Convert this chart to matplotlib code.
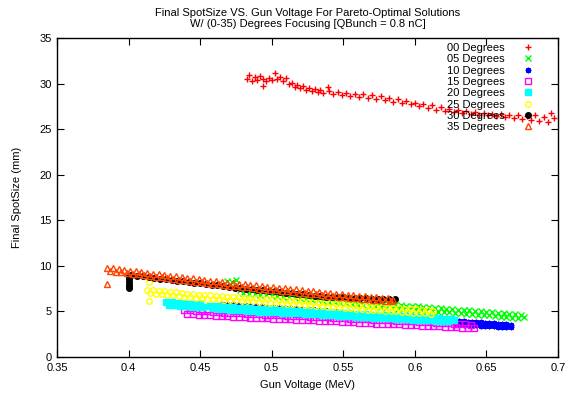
import numpy as np
import matplotlib
matplotlib.use('Agg')
import matplotlib.pyplot as plt
from matplotlib.ticker import MultipleLocator, FormatStrFormatter

plt.rcParams['font.family'] = ['Liberation Sans', 'DejaVu Sans']
plt.rcParams['font.size'] = 8

# --- data (gun voltage MeV, final spot size mm) ---
deg00_x = [0.483, 0.484, 0.486, 0.488, 0.490, 0.492, 0.494, 0.494, 0.496, 0.498, 0.500, 0.502, 0.504,
           0.506, 0.508, 0.510, 0.512, 0.514, 0.516, 0.518, 0.520, 0.522, 0.524, 0.526, 0.528, 0.530,
           0.532, 0.534, 0.536, 0.539, 0.540, 0.543, 0.546, 0.549, 0.552, 0.555, 0.558, 0.561, 0.564,
           0.567, 0.570, 0.573, 0.576, 0.579, 0.582, 0.585, 0.588, 0.591, 0.594, 0.597, 0.600, 0.603,
           0.606, 0.609, 0.612, 0.615, 0.618, 0.621, 0.624, 0.627, 0.630, 0.633, 0.636, 0.639, 0.642,
           0.645, 0.648, 0.651, 0.654, 0.657, 0.660, 0.663, 0.666, 0.669, 0.672, 0.675, 0.678, 0.681,
           0.684, 0.687, 0.690, 0.693, 0.695, 0.697]
deg00_y = [30.5, 30.9, 30.3, 30.7, 30.4, 30.8, 30.5, 29.7, 30.3, 30.6, 30.4, 31.1, 30.5,
           30.7, 30.3, 30.6, 29.9, 30.1, 29.6, 29.8, 29.5, 29.7, 29.3, 29.5, 29.2, 29.4,
           29.1, 29.3, 29.0, 29.6, 29.2, 28.9, 29.1, 28.7, 29.0, 28.6, 28.9, 28.5, 28.8,
           28.4, 28.7, 28.3, 28.6, 28.2, 28.4, 28.0, 28.3, 27.9, 28.1, 27.7, 27.9, 27.5,
           27.8, 27.3, 27.6, 27.1, 27.4, 27.0, 27.2, 26.9, 27.1, 26.8, 27.0, 26.7, 26.9,
           26.6, 26.8, 26.5, 26.7, 26.4, 26.7, 26.3, 26.5, 26.2, 26.6, 26.1, 26.4, 26.0,
           26.5, 25.9, 26.3, 25.8, 26.8, 26.2]

deg05_x = [0.469, 0.472, 0.475,
           0.478, 0.480, 0.482, 0.484, 0.486, 0.488, 0.490, 0.492, 0.494, 0.496,
           0.498, 0.500, 0.502, 0.504, 0.506, 0.508, 0.510, 0.512, 0.514, 0.516,
           0.518, 0.520, 0.522, 0.524, 0.526, 0.528, 0.530, 0.532, 0.534, 0.536,
           0.538, 0.540, 0.542, 0.544, 0.546, 0.548, 0.550, 0.552, 0.554, 0.556,
           0.558, 0.560, 0.562, 0.564, 0.566, 0.568, 0.570, 0.572, 0.574, 0.576,
           0.578, 0.580, 0.582, 0.584, 0.586, 0.588, 0.590, 0.592, 0.594, 0.596,
           0.598, 0.600, 0.602, 0.604, 0.606, 0.608, 0.610, 0.612, 0.614, 0.616,
           0.618, 0.620, 0.622, 0.624, 0.626, 0.628, 0.630, 0.632, 0.634, 0.636,
           0.638, 0.640, 0.642, 0.644, 0.646, 0.648, 0.650, 0.652, 0.654, 0.656,
           0.658, 0.660, 0.662, 0.664, 0.666, 0.668, 0.670, 0.672, 0.674, 0.676]
deg05_y = [8.35, 8.2, 8.4,
           7.40, 6.98, 7.35, 6.93, 7.31, 6.89, 7.26, 6.84, 7.22, 6.80,
           7.17, 6.75, 7.12, 6.69, 7.06, 6.63, 7.00, 6.57, 6.94, 6.51,
           6.88, 6.45, 6.81, 6.37, 6.74, 6.30, 6.66, 6.22, 6.58, 6.14,
           6.51, 6.07, 6.44, 6.01, 6.38, 5.95, 6.32, 5.88, 6.25, 5.82,
           6.19, 5.76, 6.13, 5.70, 6.07, 5.63, 6.00, 5.57, 5.93, 5.50,
           5.87, 5.43, 5.80, 5.37, 5.73, 5.30, 5.68, 5.26, 5.63, 5.21,
           5.59, 5.17, 5.55, 5.13, 5.50, 5.08, 5.46, 5.04, 5.41, 4.99,
           5.36, 4.94, 5.31, 4.89, 5.26, 4.84, 5.21, 4.79, 5.17, 4.74,
           5.12, 4.70, 5.07, 4.65, 5.03, 4.60, 4.98, 4.56, 4.94, 4.51,
           4.88, 4.45, 4.82, 4.39, 4.76, 4.32, 4.69, 4.26, 4.63, 4.40]

deg10_x = [0.465, 0.469, 0.473, 0.477, 0.481, 0.485, 0.489, 0.493, 0.497, 0.501,
           0.505, 0.509, 0.513, 0.517, 0.521, 0.525, 0.529, 0.533, 0.537, 0.541,
           0.545, 0.549, 0.553, 0.557, 0.561, 0.565, 0.569, 0.573, 0.577, 0.581,
           0.585, 0.589, 0.593, 0.597, 0.601, 0.605, 0.609, 0.613, 0.617, 0.621, 0.625,
           0.628, 0.628, 0.631, 0.631, 0.634, 0.634, 0.637, 0.637, 0.640, 0.640,
           0.643, 0.643, 0.646, 0.646, 0.649, 0.649, 0.652, 0.652, 0.655, 0.655,
           0.658, 0.658, 0.661, 0.661, 0.664, 0.664, 0.667, 0.667]
deg10_y = [5.85, 5.81, 5.77, 5.73, 5.69, 5.65, 5.61, 5.57, 5.53, 5.49,
           5.45, 5.42, 5.38, 5.34, 5.30, 5.26, 5.22, 5.18, 5.14, 5.10,
           5.04, 4.98, 4.93, 4.87, 4.81, 4.75, 4.69, 4.64, 4.58, 4.52,
           4.46, 4.40, 4.35, 4.29, 4.23, 4.17, 4.11, 4.06, 4.00, 3.94, 3.88,
           4.00, 3.65, 3.95, 3.60, 3.92, 3.57, 3.90, 3.52, 3.85, 3.50,
           3.82, 3.47, 3.80, 3.45, 3.76, 3.42, 3.73, 3.40, 3.70, 3.37,
           3.68, 3.35, 3.64, 3.33, 3.60, 3.30, 3.55, 3.35]

deg15_x = [0.439, 0.441, 0.443, 0.445, 0.447, 0.449, 0.451, 0.453, 0.455, 0.457,
           0.459, 0.461, 0.463, 0.465, 0.467, 0.469, 0.471, 0.473, 0.475, 0.477,
           0.479, 0.481, 0.483, 0.485, 0.487, 0.489, 0.491, 0.493, 0.495, 0.497,
           0.499, 0.501, 0.503, 0.505, 0.507, 0.509, 0.511, 0.513, 0.515, 0.517,
           0.519, 0.521, 0.523, 0.525, 0.527, 0.529, 0.531, 0.533, 0.535, 0.537,
           0.539, 0.541, 0.543, 0.545, 0.547, 0.549, 0.551, 0.553, 0.555, 0.557,
           0.559, 0.561, 0.563, 0.565, 0.567, 0.569, 0.571, 0.573, 0.575, 0.577,
           0.579, 0.581, 0.583, 0.585, 0.587, 0.589, 0.591, 0.593, 0.595, 0.597,
           0.599, 0.601, 0.603, 0.605, 0.607, 0.609, 0.611, 0.613, 0.615, 0.617,
           0.619, 0.621, 0.623, 0.625, 0.627, 0.629, 0.631, 0.633, 0.635, 0.637,
           0.639, 0.641]
deg15_y = [5.20, 4.77, 5.15, 4.72, 5.09, 4.66, 5.04, 4.62, 5.00, 4.58,
           4.96, 4.54, 4.92, 4.50, 4.88, 4.46, 4.84, 4.43, 4.81, 4.40,
           4.78, 4.37, 4.75, 4.34, 4.72, 4.31, 4.69, 4.28, 4.66, 4.25,
           4.63, 4.22, 4.60, 4.19, 4.57, 4.16, 4.54, 4.13, 4.52, 4.10,
           4.49, 4.08, 4.47, 4.05, 4.44, 4.03, 4.41, 4.00, 4.39, 3.97,
           4.36, 3.95, 4.33, 3.92, 4.30, 3.88, 4.26, 3.85, 4.23, 3.81,
           4.20, 3.78, 4.16, 3.74, 4.13, 3.71, 4.09, 3.68, 4.07, 3.66,
           4.04, 3.63, 4.02, 3.60, 3.99, 3.58, 3.96, 3.55, 3.94, 3.52,
           3.91, 3.49, 3.88, 3.46, 3.85, 3.43, 3.82, 3.40, 3.79, 3.36,
           3.76, 3.34, 3.72, 3.30, 3.68, 3.26, 3.64, 3.22, 3.60, 3.18,
           3.56, 3.20]

deg20_x = [0.426, 0.428, 0.430, 0.432, 0.434, 0.436, 0.438, 0.440, 0.442, 0.444,
           0.446, 0.448, 0.450, 0.452,
           0.457, 0.459, 0.461, 0.463, 0.465, 0.467, 0.469, 0.471, 0.473, 0.475,
           0.477, 0.479, 0.481, 0.483, 0.485, 0.487, 0.489, 0.491, 0.493, 0.495,
           0.497, 0.499, 0.501, 0.503, 0.505, 0.507, 0.509, 0.511, 0.513, 0.515,
           0.517, 0.519, 0.521, 0.523, 0.525, 0.527, 0.529, 0.531, 0.533, 0.535,
           0.537, 0.539, 0.541, 0.543, 0.545, 0.547, 0.549, 0.551, 0.553, 0.555,
           0.557, 0.559, 0.561, 0.563, 0.565, 0.567, 0.569, 0.571, 0.573, 0.575,
           0.577, 0.579, 0.581, 0.583, 0.585, 0.587, 0.589, 0.591, 0.593, 0.595,
           0.597, 0.599, 0.601, 0.603, 0.605, 0.607, 0.609, 0.611, 0.613, 0.615,
           0.617, 0.619, 0.621, 0.623, 0.625, 0.627]
deg20_y = [6.05, 5.73, 6.00, 5.68, 5.96, 5.63, 5.91, 5.59, 5.87, 5.54,
           5.82, 5.50, 5.77, 5.45,
           5.65, 5.33, 5.60, 5.28, 5.56, 5.23, 5.51, 5.19, 5.47, 5.15,
           5.43, 5.11, 5.39, 5.07, 5.35, 5.03, 5.31, 4.99, 5.28, 4.96,
           5.25, 4.93, 5.22, 4.90, 5.19, 4.87, 5.16, 4.84, 5.13, 4.81,
           5.09, 4.78, 5.06, 4.75, 5.03, 4.71, 5.00, 4.68, 4.97, 4.65,
           4.93, 4.62, 4.90, 4.58, 4.87, 4.55, 4.83, 4.51, 4.80, 4.48,
           4.76, 4.44, 4.73, 4.41, 4.69, 4.38, 4.66, 4.34, 4.63, 4.31,
           4.59, 4.28, 4.56, 4.24, 4.53, 4.21, 4.49, 4.18, 4.46, 4.14,
           4.43, 4.11, 4.39, 4.08, 4.36, 4.05, 4.33, 4.02, 4.30, 3.99,
           4.26, 3.96, 4.23, 3.93, 4.21, 4.05]

deg25_x = [0.414, 0.414,
           0.413, 0.415, 0.417, 0.419, 0.421, 0.423, 0.425, 0.427, 0.429, 0.431,
           0.433, 0.435, 0.437, 0.439, 0.441, 0.443, 0.445, 0.447, 0.449, 0.451,
           0.453, 0.455, 0.457, 0.459, 0.461, 0.463, 0.465, 0.467, 0.469, 0.471,
           0.473, 0.475, 0.477, 0.479, 0.481, 0.483, 0.485, 0.487, 0.489, 0.491,
           0.493, 0.495, 0.497, 0.499, 0.501, 0.503, 0.505, 0.507, 0.509, 0.511,
           0.513, 0.515, 0.517, 0.519, 0.521, 0.523, 0.525, 0.527, 0.529, 0.531,
           0.533, 0.535, 0.537, 0.539, 0.541, 0.543, 0.545, 0.547, 0.549, 0.551,
           0.553, 0.555, 0.557, 0.559, 0.561, 0.563, 0.565, 0.567, 0.569, 0.571,
           0.573, 0.575, 0.577, 0.579, 0.581, 0.583, 0.585, 0.587, 0.589, 0.591,
           0.593, 0.595, 0.597, 0.599, 0.601, 0.603, 0.605, 0.607, 0.609, 0.611,
           0.613]
deg25_y = [8.2, 6.1,
           7.38, 6.99, 7.32, 6.93, 7.26, 6.88, 7.21, 6.82, 7.15, 6.76,
           7.09, 6.70, 7.03, 6.64, 6.97, 6.58, 6.91, 6.52, 6.85, 6.46,
           6.80, 6.42, 6.76, 6.38, 6.72, 6.34, 6.68, 6.30, 6.64, 6.26,
           6.60, 6.22, 6.56, 6.18, 6.52, 6.14, 6.48, 6.10, 6.44, 6.06,
           6.40, 6.02, 6.36, 5.98, 6.32, 5.94, 6.28, 5.90, 6.24, 5.86,
           6.20, 5.81, 6.15, 5.77, 6.10, 5.72, 6.06, 5.68, 6.01, 5.63,
           5.97, 5.59, 5.92, 5.54, 5.88, 5.50, 5.83, 5.45, 5.78, 5.40,
           5.74, 5.35, 5.69, 5.30, 5.64, 5.25, 5.59, 5.21, 5.54, 5.16,
           5.50, 5.12, 5.46, 5.08, 5.42, 5.04, 5.38, 5.00, 5.34, 4.96,
           5.30, 4.92, 5.26, 4.88, 5.22, 4.84, 5.17, 4.79, 5.13, 4.75,
           5.09]

deg30_x = [0.400, 0.400, 0.400, 0.400, 0.400, 0.400,
           0.402, 0.406, 0.410, 0.414, 0.418, 0.422, 0.426, 0.430, 0.434, 0.438,
           0.442, 0.446, 0.450, 0.454, 0.458, 0.462, 0.466, 0.470, 0.474, 0.478,
           0.482, 0.486, 0.490, 0.494, 0.498, 0.502, 0.506, 0.510, 0.514, 0.518,
           0.522, 0.526, 0.530, 0.534, 0.538, 0.542, 0.546, 0.550, 0.554, 0.558,
           0.562, 0.566, 0.570, 0.574, 0.578, 0.582, 0.586]
deg30_y = [8.9, 8.6, 8.2, 7.95, 7.7, 7.55,
           8.95, 8.92, 8.85, 8.77, 8.69, 8.60, 8.52, 8.44, 8.37, 8.30,
           8.22, 8.15, 8.07, 8.00, 7.92, 7.85, 7.78, 7.70, 7.63, 7.57,
           7.51, 7.45, 7.38, 7.33, 7.27, 7.20, 7.14, 7.08, 7.02, 6.95,
           6.88, 6.81, 6.74, 6.67, 6.62, 6.60, 6.57, 6.55, 6.52, 6.50,
           6.47, 6.45, 6.42, 6.40, 6.38, 6.37, 6.36]

deg35_x = [0.385,
           0.385, 0.387, 0.389, 0.391, 0.393, 0.395, 0.397, 0.399, 0.401, 0.403,
           0.405, 0.407, 0.409, 0.411, 0.413, 0.415, 0.417, 0.419, 0.421, 0.423,
           0.425, 0.427, 0.429, 0.431, 0.433, 0.435, 0.437, 0.439, 0.441, 0.443,
           0.445, 0.447, 0.449, 0.451, 0.453, 0.455, 0.457, 0.459, 0.461, 0.463,
           0.465, 0.467, 0.469, 0.471, 0.473, 0.475, 0.477, 0.479, 0.481, 0.483,
           0.485, 0.487, 0.489, 0.491, 0.493, 0.495, 0.497, 0.499, 0.501, 0.503,
           0.505, 0.507, 0.509, 0.511, 0.513, 0.515, 0.517, 0.519, 0.521, 0.523,
           0.525, 0.527, 0.529, 0.531, 0.533, 0.535, 0.537, 0.539, 0.541, 0.543,
           0.545, 0.547, 0.549, 0.551, 0.553, 0.555, 0.557, 0.559, 0.561, 0.563,
           0.565, 0.567, 0.569, 0.571, 0.573, 0.575, 0.577, 0.579, 0.581, 0.583,
           0.585]
deg35_y = [8.0,
           9.80, 9.46, 9.72, 9.38, 9.64, 9.30, 9.57, 9.23, 9.49, 9.15,
           9.41, 9.07, 9.32, 8.98, 9.24, 8.90, 9.16, 8.82, 9.07, 8.73,
           8.99, 8.65, 8.91, 8.58, 8.84, 8.50, 8.76, 8.43, 8.69, 8.35,
           8.62, 8.28, 8.54, 8.20, 8.46, 8.13, 8.39, 8.05, 8.32, 7.98,
           8.24, 7.91, 8.17, 7.83, 8.10, 7.77, 8.03, 7.70, 7.97, 7.64,
           7.91, 7.58, 7.85, 7.51, 7.78, 7.45, 7.72, 7.39, 7.66, 7.33,
           7.60, 7.27, 7.54, 7.21, 7.48, 7.15, 7.42, 7.08, 7.35, 7.01,
           7.28, 6.94, 7.21, 6.87, 7.14, 6.80, 7.07, 6.73, 7.00, 6.67,
           6.95, 6.62, 6.90, 6.57, 6.85, 6.52, 6.80, 6.47, 6.75, 6.42,
           6.70, 6.37, 6.64, 6.31, 6.58, 6.25, 6.52, 6.19, 6.46, 6.13,
           6.25]

series = [
    ('00 Degrees', deg00_x, deg00_y, '#ff0000', '+', 'full'),
    ('05 Degrees', deg05_x, deg05_y, '#00ff00', 'x', 'full'),
    ('10 Degrees', deg10_x, deg10_y, '#0000ff', (8, 2, 0), 'full'),
    ('15 Degrees', deg15_x, deg15_y, '#ff00ff', 's', 'none'),
    ('20 Degrees', deg20_x, deg20_y, '#00ffff', 's', 'full'),
    ('25 Degrees', deg25_x, deg25_y, '#ffff00', 'o', 'none'),
    ('30 Degrees', deg30_x, deg30_y, '#000000', 'o', 'full'),
    ('35 Degrees', deg35_x, deg35_y, '#ff4500', '^', 'none'),
]

fig = plt.figure(figsize=(5.7, 3.95), dpi=100)
ax = fig.add_axes([0.1, 0.096, 0.879, 0.808])

for label, xs, ys, col, mk, fill in series:
    ax.plot(xs, ys, linestyle='none', marker=mk, color=col, fillstyle=fill,
            markersize=4, markeredgewidth=1.0, label=label)

ax.set_xlim(0.35, 0.7)
ax.set_ylim(0, 35)
ax.xaxis.set_major_locator(MultipleLocator(0.05))
ax.yaxis.set_major_locator(MultipleLocator(5))
ax.xaxis.set_major_formatter(FormatStrFormatter('%g'))
ax.yaxis.set_major_formatter(FormatStrFormatter('%g'))
ax.tick_params(direction='in', top=True, right=True, length=5, width=0.8, labelsize=8, pad=4)
for sp in ax.spines.values():
    sp.set_linewidth(1.0)

ax.set_xlabel('Gun Voltage (MeV)', fontsize=8, labelpad=5)
ax.set_ylabel('Final SpotSize (mm)', fontsize=8, labelpad=12)
ax.set_title('Final SpotSize VS. Gun Voltage For Pareto-Optimal Solutions\n'
             'W/ (0-35) Degrees Focusing [QBunch = 0.8 nC]', fontsize=8, linespacing=1.15, pad=8)

ax.legend(loc='upper right', bbox_to_anchor=(0.965, 1.005), frameon=False, markerfirst=False,
          fontsize=8, labelspacing=0.12, handlelength=1.0, handletextpad=1.6, borderaxespad=0.2)

fig.savefig('out.png', dpi=100)
